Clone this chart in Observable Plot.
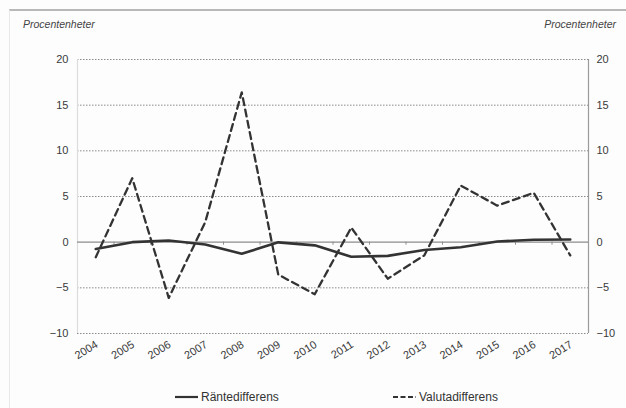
<!DOCTYPE html>
<html>
<head>
<meta charset="utf-8">
<script src="https://cdn.jsdelivr.net/npm/d3@7"></script>
<script src="https://cdn.jsdelivr.net/npm/@observablehq/plot@0.6"></script>
<style>
  html, body { margin: 0; padding: 0; background: #fdfdfd; }
  #wrap { position: relative; width: 626px; height: 408px; overflow: hidden; font-family: "Liberation Sans", Arial, sans-serif; background: #fdfdfd; }
  #frame { position: absolute; left: 9px; top: 9px; width: 700px; height: 500px; border-top: 2px solid #b8b8b8; border-left: 1px solid #e8e8e8; }
  #chart { position: absolute; left: 0; top: 0; }
  .unit { position: absolute; top: 18px; font-size: 10.5px; font-style: italic; color: #444; }
  #legend { position: absolute; top: 390px; left: 0; width: 626px; font-size: 12px; color: #333; }
  .item { position: absolute; display: flex; align-items: center; }
  .item svg { margin-right: 2px; }
</style>
</head>
<body>
<div id="wrap">
  <div id="frame"></div>
  <div id="chart"></div>
  <div class="unit" style="left:23px;">Procentenheter</div>
  <div class="unit" style="right:10px;">Procentenheter</div>
  <div id="legend"></div>
</div>
<script>
const years = [2004, 2005, 2006, 2007, 2008, 2009, 2010, 2011, 2012, 2013, 2014, 2015, 2016, 2017];
const rantedifferens = [-0.75, 0.0, 0.18, -0.25, -1.27, -0.02, -0.35, -1.6, -1.5, -0.85, -0.55, 0.08, 0.26, 0.3];
const valutadifferens = [-1.65, 7.0, -6.1, 2.2, 16.4, -3.55, -5.7, 1.6, -4.0, -1.45, 6.2, 4.0, 5.4, -1.45];
const yTicks = [-10, -5, 0, 5, 10, 15, 20];
const seriesNames = ["Räntedifferens", "Valutadifferens"];

const ranteData = years.map((y, i) => ({year: y, value: rantedifferens[i]}));
const valutaData = years.map((y, i) => ({year: y, value: valutadifferens[i]}));
const boundaries = years.slice(0, -1).map(y => y + 0.5);
const xMin = years[0] - 0.5, xMax = years[years.length - 1] + 0.5;
const yMin = d3.min(yTicks), yMax = d3.max(yTicks);

const chart = Plot.plot({
  width: 626,
  height: 408,
  marginTop: 59,
  marginBottom: 75,
  marginLeft: 77,
  marginRight: 38,
  style: {fontFamily: '"Liberation Sans", Arial, sans-serif', fontSize: "11px", color: "#3a3a3a", background: "transparent"},
  x: {type: "linear", domain: [xMin, xMax], label: null},
  y: {type: "linear", domain: [yMin, yMax], label: null},
  marks: [
    Plot.ruleY(yTicks.filter(t => t !== 0), {stroke: "#8a8a8a", strokeWidth: 1, strokeDasharray: "1.5,1.5"}),
    Plot.ruleX([xMin], {y1: yMin, y2: yMax, stroke: "#dcdcdc", strokeWidth: 1.2}),
    Plot.ruleX([xMax], {y1: yMin, y2: yMax, stroke: "#9a9a9a", strokeWidth: 1.2}),
    Plot.ruleY([0], {stroke: "#8c8c8c", strokeWidth: 1.3}),
    Plot.ruleX(boundaries, {y1: 0, y2: 0, insetBottom: -3, stroke: "#8c8c8c", strokeWidth: 1}),
    Plot.axisY(yTicks, {anchor: "left", tickSize: 0, tickPadding: 9, label: null, fontSize: 11}),
    Plot.axisY(yTicks, {anchor: "right", tickSize: 0, tickPadding: 8, label: null, fontSize: 11}),
    Plot.axisX(years, {tickSize: 0, tickPadding: 10, tickRotate: -32, tickFormat: d => String(d), label: null, fontSize: 11, dx: 1}),
    Plot.line(ranteData, {x: "year", y: "value", stroke: "#333", strokeWidth: 2.6}),
    Plot.line(valutaData, {x: "year", y: "value", stroke: "#333", strokeWidth: 2.3, strokeDasharray: "7,4.5"})
  ]
});
document.getElementById("chart").appendChild(chart);

const legend = document.getElementById("legend");
const legendPos = [175, 393];
seriesNames.forEach((name, i) => {
  const item = document.createElement("div");
  item.className = "item";
  item.style.left = legendPos[i] + "px";
  const dash = i === 1 ? 'stroke-dasharray="5,2.5"' : "";
  item.innerHTML = `<svg width="24" height="8"><line x1="0" y1="4" x2="23" y2="4" stroke="#333" stroke-width="2.2" ${dash}/></svg><span>${name}</span>`;
  legend.appendChild(item);
});
</script>
</body>
</html>
